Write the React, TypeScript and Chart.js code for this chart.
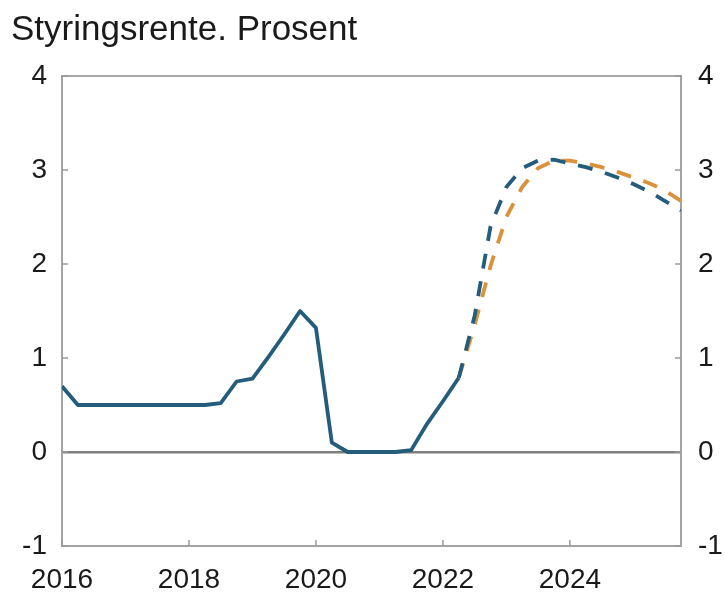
import { useEffect, useRef } from 'react';
import { Chart, registerables } from 'chart.js';

Chart.register(...registerables);

const TITLE = 'Styringsrente. Prosent';

const historyQuarters = [
  '2016Q1', '2016Q2', '2016Q3', '2016Q4',
  '2017Q1', '2017Q2', '2017Q3', '2017Q4',
  '2018Q1', '2018Q2', '2018Q3', '2018Q4',
  '2019Q1', '2019Q2', '2019Q3', '2019Q4',
  '2020Q1', '2020Q2', '2020Q3', '2020Q4',
  '2021Q1', '2021Q2', '2021Q3', '2021Q4',
  '2022Q1', '2022Q2',
];
const historyValues = [
  0.70, 0.50, 0.50, 0.50,
  0.50, 0.50, 0.50, 0.50,
  0.50, 0.50, 0.52, 0.75,
  0.78, 1.01, 1.25, 1.50,
  1.32, 0.10, 0.00, 0.00,
  0.00, 0.00, 0.02, 0.30,
  0.54, 0.79,
];

const forecastQuarters = [
  '2022Q2', '2022Q3', '2022Q4',
  '2023Q1', '2023Q2', '2023Q3', '2023Q4',
  '2024Q1', '2024Q2', '2024Q3', '2024Q4',
  '2025Q1', '2025Q2', '2025Q3', '2025Q4',
];
const forecastCurrent = [
  0.79, 1.45, 2.40,
  2.82, 3.02, 3.10, 3.11,
  3.07, 3.03, 2.98, 2.92,
  2.85, 2.77, 2.67, 2.57,
];
const forecastPrevious = [
  0.79, 1.35, 1.98,
  2.50, 2.82, 3.02, 3.10,
  3.10, 3.07, 3.03, 2.98,
  2.92, 2.86, 2.78, 2.67,
];

const xTickValues = [2016, 2018, 2020, 2022, 2024];
const yTickValues = [-1, 0, 1, 2, 3, 4];

const BLUE = '#245c7c';
const ORANGE = '#db913b';
const FONT = '"Liberation Sans", Arial, Helvetica, sans-serif';

function quarterToX(q: string): number {
  const year = parseInt(q.slice(0, 4), 10);
  const qn = parseInt(q.slice(5), 10);
  return year + (qn - 1) / 4;
}

function toPoints(quarters: string[], values: number[]) {
  return quarters.map((q, i) => ({ x: quarterToX(q), y: values[i] }));
}

const framePlugin = {
  id: 'frame',
  beforeDatasetsDraw(chart: any) {
    const { ctx, chartArea } = chart;
    const { left, right, top, bottom } = chartArea;
    ctx.save();
    ctx.strokeStyle = '#a3a3a3';
    ctx.lineWidth = 2;
    ctx.beginPath();
    ctx.moveTo(left, top);
    ctx.lineTo(left, bottom);
    ctx.lineTo(right, bottom);
    ctx.lineTo(right, top);
    ctx.stroke();
    ctx.strokeStyle = '#8a8a8a';
    ctx.lineWidth = 1.5;
    ctx.beginPath();
    ctx.moveTo(left - 1, top);
    ctx.lineTo(right + 1, top);
    ctx.stroke();
    // inward ticks
    ctx.strokeStyle = '#999999';
    ctx.lineWidth = 1.5;
    const xs = chart.scales.x;
    const ys = chart.scales.y;
    ctx.beginPath();
    xTickValues.forEach((v) => {
      const px = xs.getPixelForValue(v);
      ctx.moveTo(px, bottom);
      ctx.lineTo(px, bottom - 6);
    });
    yTickValues.forEach((v) => {
      const py = ys.getPixelForValue(v);
      ctx.moveTo(left, py);
      ctx.lineTo(left + 6, py);
      ctx.moveTo(right, py);
      ctx.lineTo(right - 6, py);
    });
    ctx.stroke();
    ctx.restore();
  },
  afterDraw(chart: any) {
    const { ctx } = chart;
    ctx.save();
    ctx.fillStyle = '#1a1a1a';
    ctx.font = `35px ${FONT}`;
    ctx.textAlign = 'left';
    ctx.textBaseline = 'alphabetic';
    ctx.fillText(TITLE, 11, 40);
    ctx.restore();
  },
};

export default function App() {
  const canvasRef = useRef<HTMLCanvasElement | null>(null);

  useEffect(() => {
    const canvas = canvasRef.current;
    if (!canvas) return;
    const tickFont = { family: FONT, size: 28 };
    const chart = new Chart(canvas, {
      type: 'line',
      data: {
        datasets: [
          {
            label: 'Historisk',
            data: toPoints(historyQuarters, historyValues),
            borderColor: BLUE,
            borderWidth: 3.8,
            pointRadius: 0,
            borderJoinStyle: 'round',
            tension: 0,
          },
          {
            label: 'Ny bane',
            data: toPoints(forecastQuarters, forecastCurrent),
            borderColor: BLUE,
            borderWidth: 3.8,
            borderDash: [15, 13],
            pointRadius: 0,
            tension: 0,
          },
          {
            label: 'Forrige bane',
            data: toPoints(forecastQuarters, forecastPrevious),
            borderColor: ORANGE,
            borderWidth: 3.8,
            borderDash: [15, 13],
            pointRadius: 0,
            tension: 0,
          },
        ],
      },
      options: {
        responsive: false,
        animation: false,
        parsing: false as any,
        layout: { padding: { top: 76, left: 0, right: 0, bottom: 0 } },
        plugins: {
          legend: { display: false },
          title: { display: false },
          tooltip: { enabled: false },
        },
        scales: {
          x: {
            type: 'linear',
            min: 2016,
            max: 2025.75,
            afterBuildTicks: (s: any) => {
              s.ticks = xTickValues.map((v) => ({ value: v }));
            },
            afterFit: (s: any) => {
              s.height = 47;
              s.paddingLeft = 0;
              s.paddingRight = 0;
            },
            ticks: {
              font: tickFont,
              color: '#1a1a1a',
              padding: 9,
              maxRotation: 0,
              autoSkip: false,
              callback: (v: any) => String(v),
            },
            grid: { display: false },
            border: { display: false },
          },
          y: {
            position: 'left',
            min: -1,
            max: 4,
            afterBuildTicks: (s: any) => {
              s.ticks = yTickValues.map((v) => ({ value: v }));
            },
            afterFit: (s: any) => {
              s.width = 62;
              s.paddingTop = 0;
              s.paddingBottom = 0;
            },
            ticks: {
              font: tickFont,
              color: '#1a1a1a',
              padding: 15,
              callback: (v: any) => String(v),
            },
            grid: {
              drawTicks: false,
              color: (c: any) => (c.tick && c.tick.value === 0 ? '#7f7f7f' : 'rgba(0,0,0,0)'),
              lineWidth: (c: any) => (c.tick && c.tick.value === 0 ? 2.5 : 0),
            },
            border: { display: false },
          },
          y2: {
            position: 'right',
            min: -1,
            max: 4,
            afterBuildTicks: (s: any) => {
              s.ticks = yTickValues.map((v) => ({ value: v }));
            },
            afterFit: (s: any) => {
              s.width = 44;
              s.paddingTop = 0;
              s.paddingBottom = 0;
            },
            ticks: {
              font: tickFont,
              color: '#1a1a1a',
              padding: 17,
              callback: (v: any) => String(v),
            },
            grid: { display: false, drawTicks: false },
            border: { display: false },
          },
        },
      },
      plugins: [framePlugin],
    });
    return () => {
      chart.destroy();
    };
  }, []);

  return (
    <div style={{ position: 'fixed', left: 0, top: 0, width: 725, height: 593, background: '#fff' }}>
      <canvas ref={canvasRef} width={725} height={593} style={{ display: 'block' }} />
    </div>
  );
}
